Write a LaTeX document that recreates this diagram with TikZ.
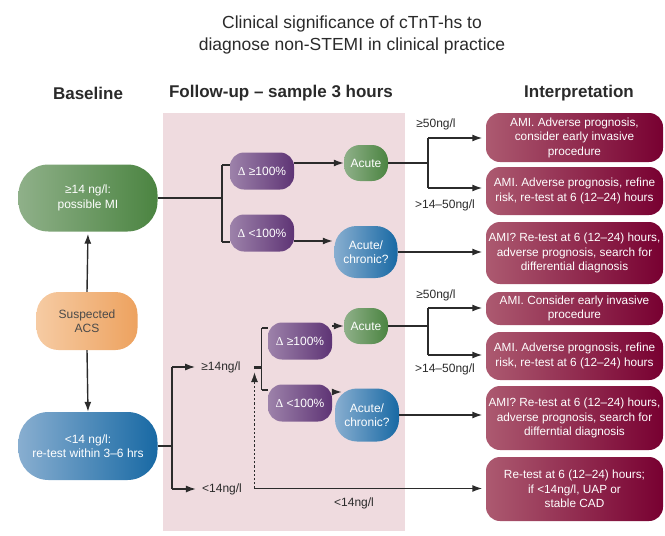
\documentclass[tikz,border=0pt]{standalone}
\usepackage{fontspec}
\setmainfont{Liberation Sans}
\newfontfamily\dfont{Liberation Serif}
\usetikzlibrary{arrows.meta,calc}
\definecolor{pinkbg}{HTML}{EFDBDF}
\definecolor{grL}{HTML}{8FB089}
\definecolor{grD}{HTML}{4B8441}
\definecolor{puL}{HTML}{9D82AA}
\definecolor{puD}{HTML}{5E3475}
\definecolor{blL}{HTML}{88AED0}
\definecolor{blD}{HTML}{1869A4}
\definecolor{orL}{HTML}{F6CBA3}
\definecolor{orD}{HTML}{EDA25F}
\definecolor{rdL}{HTML}{AC5A70}
\definecolor{rdD}{HTML}{780031}
\definecolor{ln}{HTML}{2B2B2B}
\definecolor{tx}{HTML}{2A2A2A}
\tikzset{
  bx/.style={shade, draw=none, align=center, inner sep=0pt, text=white,
    font=\fontsize{12}{14.5}\selectfont},
  grbox/.style={bx, left color=grL, right color=grD},
  pubox/.style={bx, left color=puL, right color=puD, minimum width=64pt, minimum height=37pt, rounded corners=14pt},
  blbox/.style={bx, left color=blL, right color=blD},
  rdbox/.style={bx, left color=rdL, right color=rdD, minimum width=177pt, rounded corners=14pt,
    font=\fontsize{11.8}{14.5}\selectfont},
  lbl/.style={text=tx, font=\fontsize{12}{14}\selectfont, inner sep=0pt},
  hdr/.style={text=tx, font=\fontsize{17}{20}\selectfont\bfseries, inner sep=0pt},
  ln/.style={draw=ln, line width=1.4pt},
  tip/.style={-{Latex[length=10pt,width=7pt]}},
  arr/.style={ln, tip},
}
\begin{document}
\begin{tikzpicture}[x=1pt,y=-1pt]
\useasboundingbox (0,0) rectangle (665,536);
\fill[pinkbg] (163,113) rectangle (405,531);

% title and headers
\node[text=tx, align=center, font=\fontsize{17.5}{22}\selectfont, inner sep=0pt] (title) at (352,35)
  {Clinical significance of cTnT-hs to\\diagnose non-STEMI in clinical practice};
\node[hdr] (h1) at (88,93) {Baseline};
\node[hdr] (h2) at (281,93) {Follow-up – sample 3 hours};
\node[hdr] (h3) at (579,93) {Interpretation};

% baseline column
\node[grbox, minimum width=139pt, minimum height=67pt, rounded corners=30pt] (gb) at (88,198) {≥14 ng/l:\\possible MI};
\node[bx, left color=orL, right color=orD, text=tx!85, minimum width=101pt, minimum height=58pt, rounded corners=22pt] (acs) at (87,321) {Suspected\\ACS};
\node[blbox, minimum width=139pt, minimum height=68pt, rounded corners=30pt] (bb) at (88,446) {<14 ng/l:\\re-test within 3–6 hrs};

% upper follow-up
\node[pubox] (d1) at (262,171) {{\dfont Δ} ≥100\%};
\node[pubox] (d2) at (262,233) {{\dfont Δ} <100\%};
\node[grbox, minimum width=44pt, minimum height=36pt, rounded corners=16pt] (ac1) at (366,163) {Acute};
\node[blbox, minimum width=63pt, minimum height=52pt, rounded corners=22pt] (ch1) at (366,252) {Acute/\\chronic?};

% lower follow-up
\node[lbl] (ge14) at (221,367) {≥14ng/l};
\node[lbl] (lt14) at (222,489) {<14ng/l};
\node[pubox] (d3) at (300,341) {{\dfont Δ} ≥100\%};
\node[pubox] (d4) at (300,403) {{\dfont Δ} <100\%};
\node[grbox, minimum width=44pt, minimum height=36pt, rounded corners=16pt] (ac2) at (366,326) {Acute};
\node[blbox, minimum width=64pt, minimum height=53pt, rounded corners=22pt] (ch2) at (367,415) {Acute/\\chronic?};
\node[lbl] (lt14b) at (354,503) {<14ng/l};

% interpretation
\node[rdbox, minimum height=49pt] (r1) at (574.5,137.5) {AMI. Adverse prognosis,\\consider early invasive\\procedure};
\node[rdbox, minimum height=48pt] (r2) at (574.5,191) {AMI. Adverse prognosis, refine\\risk, re-test at 6 (12–24) hours};
\node[rdbox, minimum height=62pt] (r3) at (574.5,253) {AMI? Re-test at 6 (12–24) hours,\\adverse prognosis, search for\\differential diagnosis};
\node[rdbox, minimum height=33pt] (r4) at (574.5,308.5) {AMI. Consider early invasive\\procedure};
\node[rdbox, minimum height=48pt] (r5) at (574.5,356) {AMI. Adverse prognosis, refine\\risk, re-test at 6 (12–24) hours};
\node[rdbox, minimum height=64pt] (r6) at (574.5,418) {AMI? Re-test at 6 (12–24) hours,\\adverse prognosis, search for\\differntial diagnosis};
\node[rdbox, minimum height=64pt] (r7) at (574.5,489) {Re-test at 6 (12–24) hours;\\if <14ng/l, UAP or\\stable CAD};

% range labels
\node[lbl] (u50) at (436,124) {≥50ng/l};
\node[lbl] (u14) at (445,205) {>14–50ng/l};
\node[lbl] (l50) at (436,295) {≥50ng/l};
\node[lbl] (l14) at (445,369) {>14–50ng/l};

% junction coordinates
\coordinate (j1) at (222,198);
\coordinate (j1a) at (222,165);
\coordinate (j1b) at (222,242);
\coordinate (k1) at (428,163);
\coordinate (k1a) at (428,138);
\coordinate (k1b) at (428,188);
\coordinate (j2) at (172,446);
\coordinate (j2a) at (172,367);
\coordinate (j2b) at (172,489);
\coordinate (j3) at (261.5,367.5);
\coordinate (j3a) at (261.5,328);
\coordinate (j3b) at (261.5,390);
\coordinate (dsh) at (254.5,488.5);
\coordinate (k2) at (428,326);
\coordinate (k2a) at (428,308);
\coordinate (k2b) at (428,355);

% baseline arrows
\draw[arr, shorten >=2pt] (acs.north) -- (gb.south);
\draw[arr] (acs.south) -- (bb.north);

% upper connectors
\draw[ln] (gb.east) -- (j1);
\draw[ln] (j1a) -- (j1b);
\draw[ln] (j1a) -- (d1.west |- j1a);
\draw[ln] (j1b) -- (d2.west |- j1b);
\draw[arr] (d1.east |- ac1) -- (ac1.west);
\draw[arr] (d2.east |- 0,241) -- ($(ch1.west |- 0,241)+(-1.5,0)$);
\draw[ln] (ac1.east) -- (k1);
\draw[ln] (k1a) -- (k1b);
\draw[arr, shorten >=3.5pt] (k1a) -- (r1.west |- k1a);
\draw[arr, shorten >=3.5pt] (k1b) -- (r2.west |- k1b);
\draw[arr, shorten >=3.5pt] (ch1.east) -- (r3.west |- ch1.east);

% lower connectors
\draw[ln] (bb.east) -- (j2);
\draw[ln] (j2a) -- (j2b);
\draw[arr, shorten >=6pt] (j2a) -- (ge14.west |- j2a);
\draw[arr, shorten >=6pt] (j2b) -- (lt14.west |- j2b);
\draw[draw=ln, line width=2.8pt] (ge14.east |- j3) ++(13,0) -- (j3);
\draw[ln] (j3a) -- (j3b);
\draw[ln] (j3a) -- (d3.west |- j3a);
\draw[ln] (j3b) -- (d4.west |- j3b);
\draw[arr] (d3.east |- ac2) -- (ac2.west);
\draw[arr] (d4.east |- 0,392) -- ($(ch2.west |- 0,392)+(7,0)$);
\draw[ln] (ac2.east) -- (k2);
\draw[ln] (k2a) -- (k2b);
\draw[arr, shorten >=3.5pt] (k2a) -- (r4.west |- k2a);
\draw[arr, shorten >=3.5pt] (k2b) -- (r5.west |- k2b);
\draw[arr, shorten >=3.5pt] (ch2.east) -- (r6.west |- ch2.east);
\draw[arr, shorten >=3.5pt] (dsh) -- (r7.west |- dsh);
\draw[draw=ln, line width=1.4pt, dash pattern=on 2.2pt off 2pt, tip] (dsh) -- (dsh |- 0,372);
\end{tikzpicture}
\end{document}
